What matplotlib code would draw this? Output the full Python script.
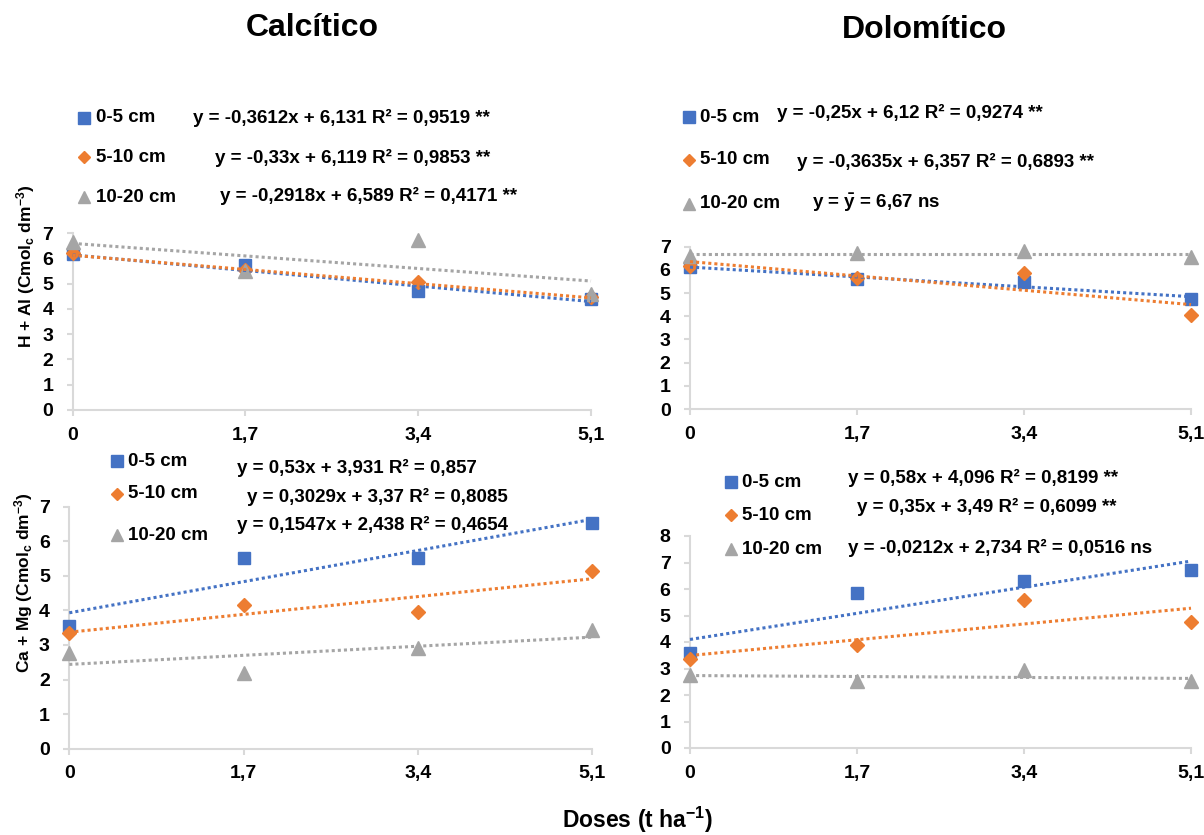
import matplotlib
matplotlib.use("Agg")
import matplotlib.pyplot as plt
from matplotlib.lines import Line2D

plt.rcParams['font.family'] = ['Liberation Sans', 'DejaVu Sans']
plt.rcParams['font.weight'] = 'bold'
plt.rcParams['mathtext.fontset'] = 'custom'
plt.rcParams['mathtext.rm'] = 'Liberation Sans:bold'
plt.rcParams['mathtext.bf'] = 'Liberation Sans:bold'
plt.rcParams['mathtext.it'] = 'Liberation Sans:bold'
plt.rcParams['mathtext.default'] = 'bf'

# Data
doses = [0, 1.7, 3.4, 5.1]
dose_labels = ['0', '1,7', '3,4', '5,1']
depths = ['0-5 cm', '5-10 cm', '10-20 cm']

hal_calc = [[6.15, 5.75, 4.69, 4.40],
            [6.20, 5.52, 5.07, 4.48],
            [6.66, 5.48, 6.72, 4.58]]
hal_dolo = [[6.11, 5.61, 5.47, 4.76],
            [6.16, 5.64, 5.87, 4.07],
            [6.59, 6.71, 6.81, 6.54]]
camg_calc = [[3.55, 5.52, 5.53, 6.52],
             [3.36, 4.15, 3.96, 5.14],
             [2.78, 2.20, 2.92, 3.43]]
camg_dolo = [[3.58, 5.84, 6.31, 6.70],
             [3.37, 3.89, 5.59, 4.77],
             [2.76, 2.51, 2.95, 2.51]]

# trendline coefficients (slope, intercept) as printed
fit_hal_calc = [(-0.3612, 6.131), (-0.33, 6.119), (-0.2918, 6.589)]
fit_hal_dolo = [(-0.25, 6.12), (-0.3635, 6.357), (0.0, 6.67)]
fit_camg_calc = [(0.53, 3.931), (0.3029, 3.37), (0.1547, 2.438)]
fit_camg_dolo = [(0.58, 4.096), (0.35, 3.49), (-0.0212, 2.734)]

eq_hal_calc = ['y = -0,3612x + 6,131 R² = 0,9519 **',
               'y = -0,33x + 6,119 R² = 0,9853 **',
               'y = -0,2918x + 6,589 R² = 0,4171 **']
eq_hal_dolo = ['y = -0,25x + 6,12 R² = 0,9274 **',
               'y = -0,3635x + 6,357 R² = 0,6893 **',
               r'y = $\bar{y}$ = 6,67 ns']
eq_camg_calc = ['y = 0,53x + 3,931 R² = 0,857',
                'y = 0,3029x + 3,37 R² = 0,8085',
                'y = 0,1547x + 2,438 R² = 0,4654']
eq_camg_dolo = ['y = 0,58x + 4,096 R² = 0,8199 **',
                'y = 0,35x + 3,49 R² = 0,6099 **',
                'y = -0,0212x + 2,734 R² = 0,0516 ns']

colors = ['#4472C4', '#ED7D31', '#A5A5A5']
markers = ['s', 'D', '^']
msizes = [8.5, 7, 9.5]

W, H = 1204, 835
fig = plt.figure(figsize=(W / 100, H / 100), dpi=100)


def px(x, y):
    return x / W, 1 - y / H


def make_ax(left, top, right, bottom):
    l, t = px(left, top)
    r, b = px(right, bottom)
    return fig.add_axes([l, b, r - l, t - b])


panels = [
    dict(box=(72.7, 233, 591, 410), data=hal_calc, fits=fit_hal_calc, eqs=eq_hal_calc, ymax=7,
         rows=[118, 157, 197], mx=84, tx=96, eqpos=[(193, 118), (215, 158), (220, 196)]),
    dict(box=(690, 246.7, 1191, 409), data=hal_dolo, fits=fit_hal_dolo, eqs=eq_hal_dolo, ymax=7,
         rows=[117, 160, 204], mx=689, tx=700, eqpos=[(777, 113), (797, 162), (812, 203)]),
    dict(box=(69.3, 506.7, 592, 748.7), data=camg_calc, fits=fit_camg_calc, eqs=eq_camg_calc, ymax=7,
         rows=[461, 494, 535], mx=117, tx=128, eqpos=[(237, 468), (247, 497), (237, 525)]),
    dict(box=(690, 536, 1191, 748), data=camg_dolo, fits=fit_camg_dolo, eqs=eq_camg_dolo, ymax=8,
         rows=[482, 515, 549], mx=731, tx=742, eqpos=[(848, 478), (857, 507), (848, 548)]),
]

for p in panels:
    ax = make_ax(*p['box'])
    for i in range(3):
        ax.plot(doses, p['data'][i], linestyle='none', marker=markers[i], ms=msizes[i],
                color=colors[i], clip_on=False, zorder=3)
    for i in range(3):
        a, b = p['fits'][i]
        ax.plot([doses[0], doses[-1]], [b + a * doses[0], b + a * doses[-1]],
                linestyle=(0, (1, 1)), lw=2.2, color=colors[i], clip_on=False, zorder=4)
    ax.set_xlim(0, 5.1)
    ax.set_ylim(0, p['ymax'])
    ax.set_xticks(doses)
    ax.set_xticklabels(dose_labels)
    ax.set_yticks(range(0, p['ymax'] + 1))
    for s in ['top', 'right']:
        ax.spines[s].set_visible(False)
    for s in ['left', 'bottom']:
        ax.spines[s].set_color('#D9D9D9')
        ax.spines[s].set_linewidth(1.5)
    ax.tick_params(axis='both', colors='#D9D9D9', length=4, width=1.5, labelcolor='black',
                   labelsize=14)
    ax.tick_params(axis='y', pad=10)
    ax.tick_params(axis='x', pad=8)
    for t in ax.get_xticklabels() + ax.get_yticklabels():
        t.set_fontweight('bold')

    # legend-like rows and equations
    for i in range(3):
        mxf, myf = px(p['mx'], p['rows'][i])
        fig.add_artist(Line2D([mxf], [myf], marker=markers[i], ms=msizes[i] - 0.5,
                              color=colors[i], linestyle='none', transform=fig.transFigure))
        fig.text(*px(p['tx'], p['rows'][i]), depths[i], fontsize=13.5, fontweight='bold',
                 ha='left', va='center')
        fig.text(*px(*p['eqpos'][i]), p['eqs'][i], fontsize=13.5, fontweight='bold',
                 ha='left', va='center')

fig.text(*px(312, 28), 'Calcítico', fontsize=23, fontweight='bold', ha='center', va='center')
fig.text(*px(924, 30), 'Dolomítico', fontsize=23, fontweight='bold', ha='center', va='center')

fig.text(*px(26, 266), r'H + Al (Cmol$_{c}$ dm$^{-3}$)', fontsize=12.5, fontweight='bold',
         rotation=90, ha='center', va='center')
fig.text(*px(24, 583), r'Ca + Mg (Cmol$_{c}$ dm$^{-3}$)', fontsize=12.5, fontweight='bold',
         rotation=90, ha='center', va='center')
fig.text(*px(637, 820), r'Doses (t ha$^{-1}$)', fontsize=16.5, fontweight='bold',
         ha='center', va='center')

fig.savefig('out.png', dpi=100)
